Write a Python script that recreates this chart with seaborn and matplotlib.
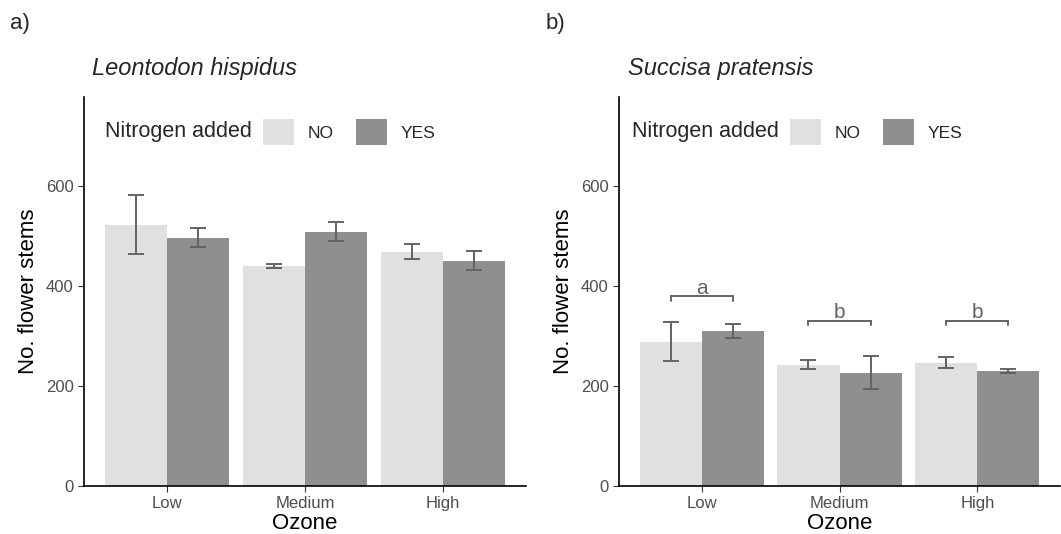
import numpy as np
import pandas as pd
import seaborn as sns
import matplotlib
matplotlib.use("Agg")
import matplotlib.pyplot as plt
from matplotlib.patches import Patch

#%% data
ozone = ["Low", "Medium", "High"]
nitrogen = ["NO", "YES"]

# Leontodon hispidus
leo_no = [523, 440, 469]
leo_yes = [497, 509, 451]
leo_no_lo = [465, 436, 454]
leo_no_hi = [582, 445, 484]
leo_yes_lo = [478, 490, 432]
leo_yes_hi = [516, 529, 471]

# Succisa pratensis
suc_no = [289, 243, 247]
suc_yes = [310, 227, 231]
suc_no_lo = [250, 234, 237]
suc_no_hi = [329, 253, 259]
suc_yes_lo = [297, 194, 226]
suc_yes_hi = [325, 261, 235]

# significance letters and bracket heights (panel b)
sig_letters = ["a", "b", "b"]
sig_height = [380, 331, 331]

colors = {"NO": "#e0e0e0", "YES": "#8f8f8f"}
err_col = "#636363"
grey_txt = "#4d4d4d"

#%% style
sns.set_style("ticks")
plt.rcParams["font.family"] = ["Liberation Sans", "DejaVu Sans"]


def make_df(no, yes, no_lo, no_hi, yes_lo, yes_hi):
    return pd.DataFrame({
        "Ozone": ozone * 2,
        "Nitrogen": ["NO"] * 3 + ["YES"] * 3,
        "stems": no + yes,
        "lo": no_lo + yes_lo,
        "hi": no_hi + yes_hi,
    })


def draw_panel(ax, df, title, letter, title_x, leg_x):
    sns.barplot(data=df, x="Ozone", y="stems", hue="Nitrogen", order=ozone,
                hue_order=nitrogen, palette=colors, errorbar=None, width=0.9,
                linewidth=0, saturation=1, legend=False, ax=ax)
    # error bars at the bar centres
    for cont, lvl in zip(ax.containers, nitrogen):
        sub = df[df["Nitrogen"] == lvl].set_index("Ozone").loc[ozone]
        xs = [b.get_x() + b.get_width() / 2 for b in cont]
        ax.errorbar(xs, sub["stems"],
                    yerr=[sub["stems"] - sub["lo"], sub["hi"] - sub["stems"]],
                    fmt="none", ecolor=err_col, elinewidth=1.4, capsize=6,
                    capthick=1.4, zorder=5)
    ax.set_xlim(-0.6, 2.6)
    ax.set_ylim(0, 778)
    ax.set_yticks([0, 200, 400, 600])
    ax.set_xlabel("Ozone", fontsize=16, color="black", labelpad=1)
    ax.set_ylabel("No. flower stems", fontsize=16, color="black", labelpad=5)
    ax.tick_params(axis="both", labelsize=12, labelcolor=grey_txt,
                   color="#333333", length=4.5, width=0.8, pad=3)
    for s in ["left", "bottom"]:
        ax.spines[s].set_linewidth(1.2)
        ax.spines[s].set_color("black")
    sns.despine(ax=ax)

    fig = ax.figure
    fig.text(title_x / 1061, 1 - 68 / 534, title, fontsize=17, style="italic",
             va="center", ha="left")
    fig.text((title_x - 82) / 1061, 1 - 24 / 534, letter, fontsize=16,
             va="center", ha="left")
    # legend: title on the left, keys in a row
    fig.text(leg_x / 1061, 1 - 132 / 534, "Nitrogen added", fontsize=15.5,
             va="center", ha="left")
    handles = [Patch(facecolor=colors[n], edgecolor="none", label=n) for n in nitrogen]
    fig.legend(handles=handles, ncol=2, frameon=False, fontsize=12.5,
               loc="center left",
               bbox_to_anchor=((leg_x + 158) / 1061, 1 - 132 / 534),
               handlelength=1.78, handleheight=1.9, handletextpad=0.8,
               columnspacing=1.26, borderpad=0, borderaxespad=0)


fig = plt.figure(figsize=(10.61, 5.34), dpi=100)
ax1 = fig.add_axes([84 / 1061, 48 / 534, 442 / 1061, 389 / 534])
ax2 = fig.add_axes([619 / 1061, 48 / 534, 441 / 1061, 389 / 534])

df_leo = make_df(leo_no, leo_yes, leo_no_lo, leo_no_hi, leo_yes_lo, leo_yes_hi)
df_suc = make_df(suc_no, suc_yes, suc_no_lo, suc_no_hi, suc_yes_lo, suc_yes_hi)

draw_panel(ax1, df_leo, "Leontodon hispidus", "a)", 92, 105)
draw_panel(ax2, df_suc, "Succisa pratensis", "b)", 628, 632)

# significance brackets for panel b
no_x = [b.get_x() + b.get_width() / 2 for b in ax2.containers[0]]
yes_x = [b.get_x() + b.get_width() / 2 for b in ax2.containers[1]]
for x0, x1, h, lab in zip(no_x, yes_x, sig_height, sig_letters):
    ax2.plot([x0, x0, x1, x1], [h - 9, h, h, h - 9], color=err_col, lw=1.4,
             solid_joinstyle="miter", zorder=6)
    ax2.text((x0 + x1) / 2, h + 4, lab, ha="center", va="baseline",
             fontsize=15, color=err_col)

fig.savefig("out.png", dpi=100)
